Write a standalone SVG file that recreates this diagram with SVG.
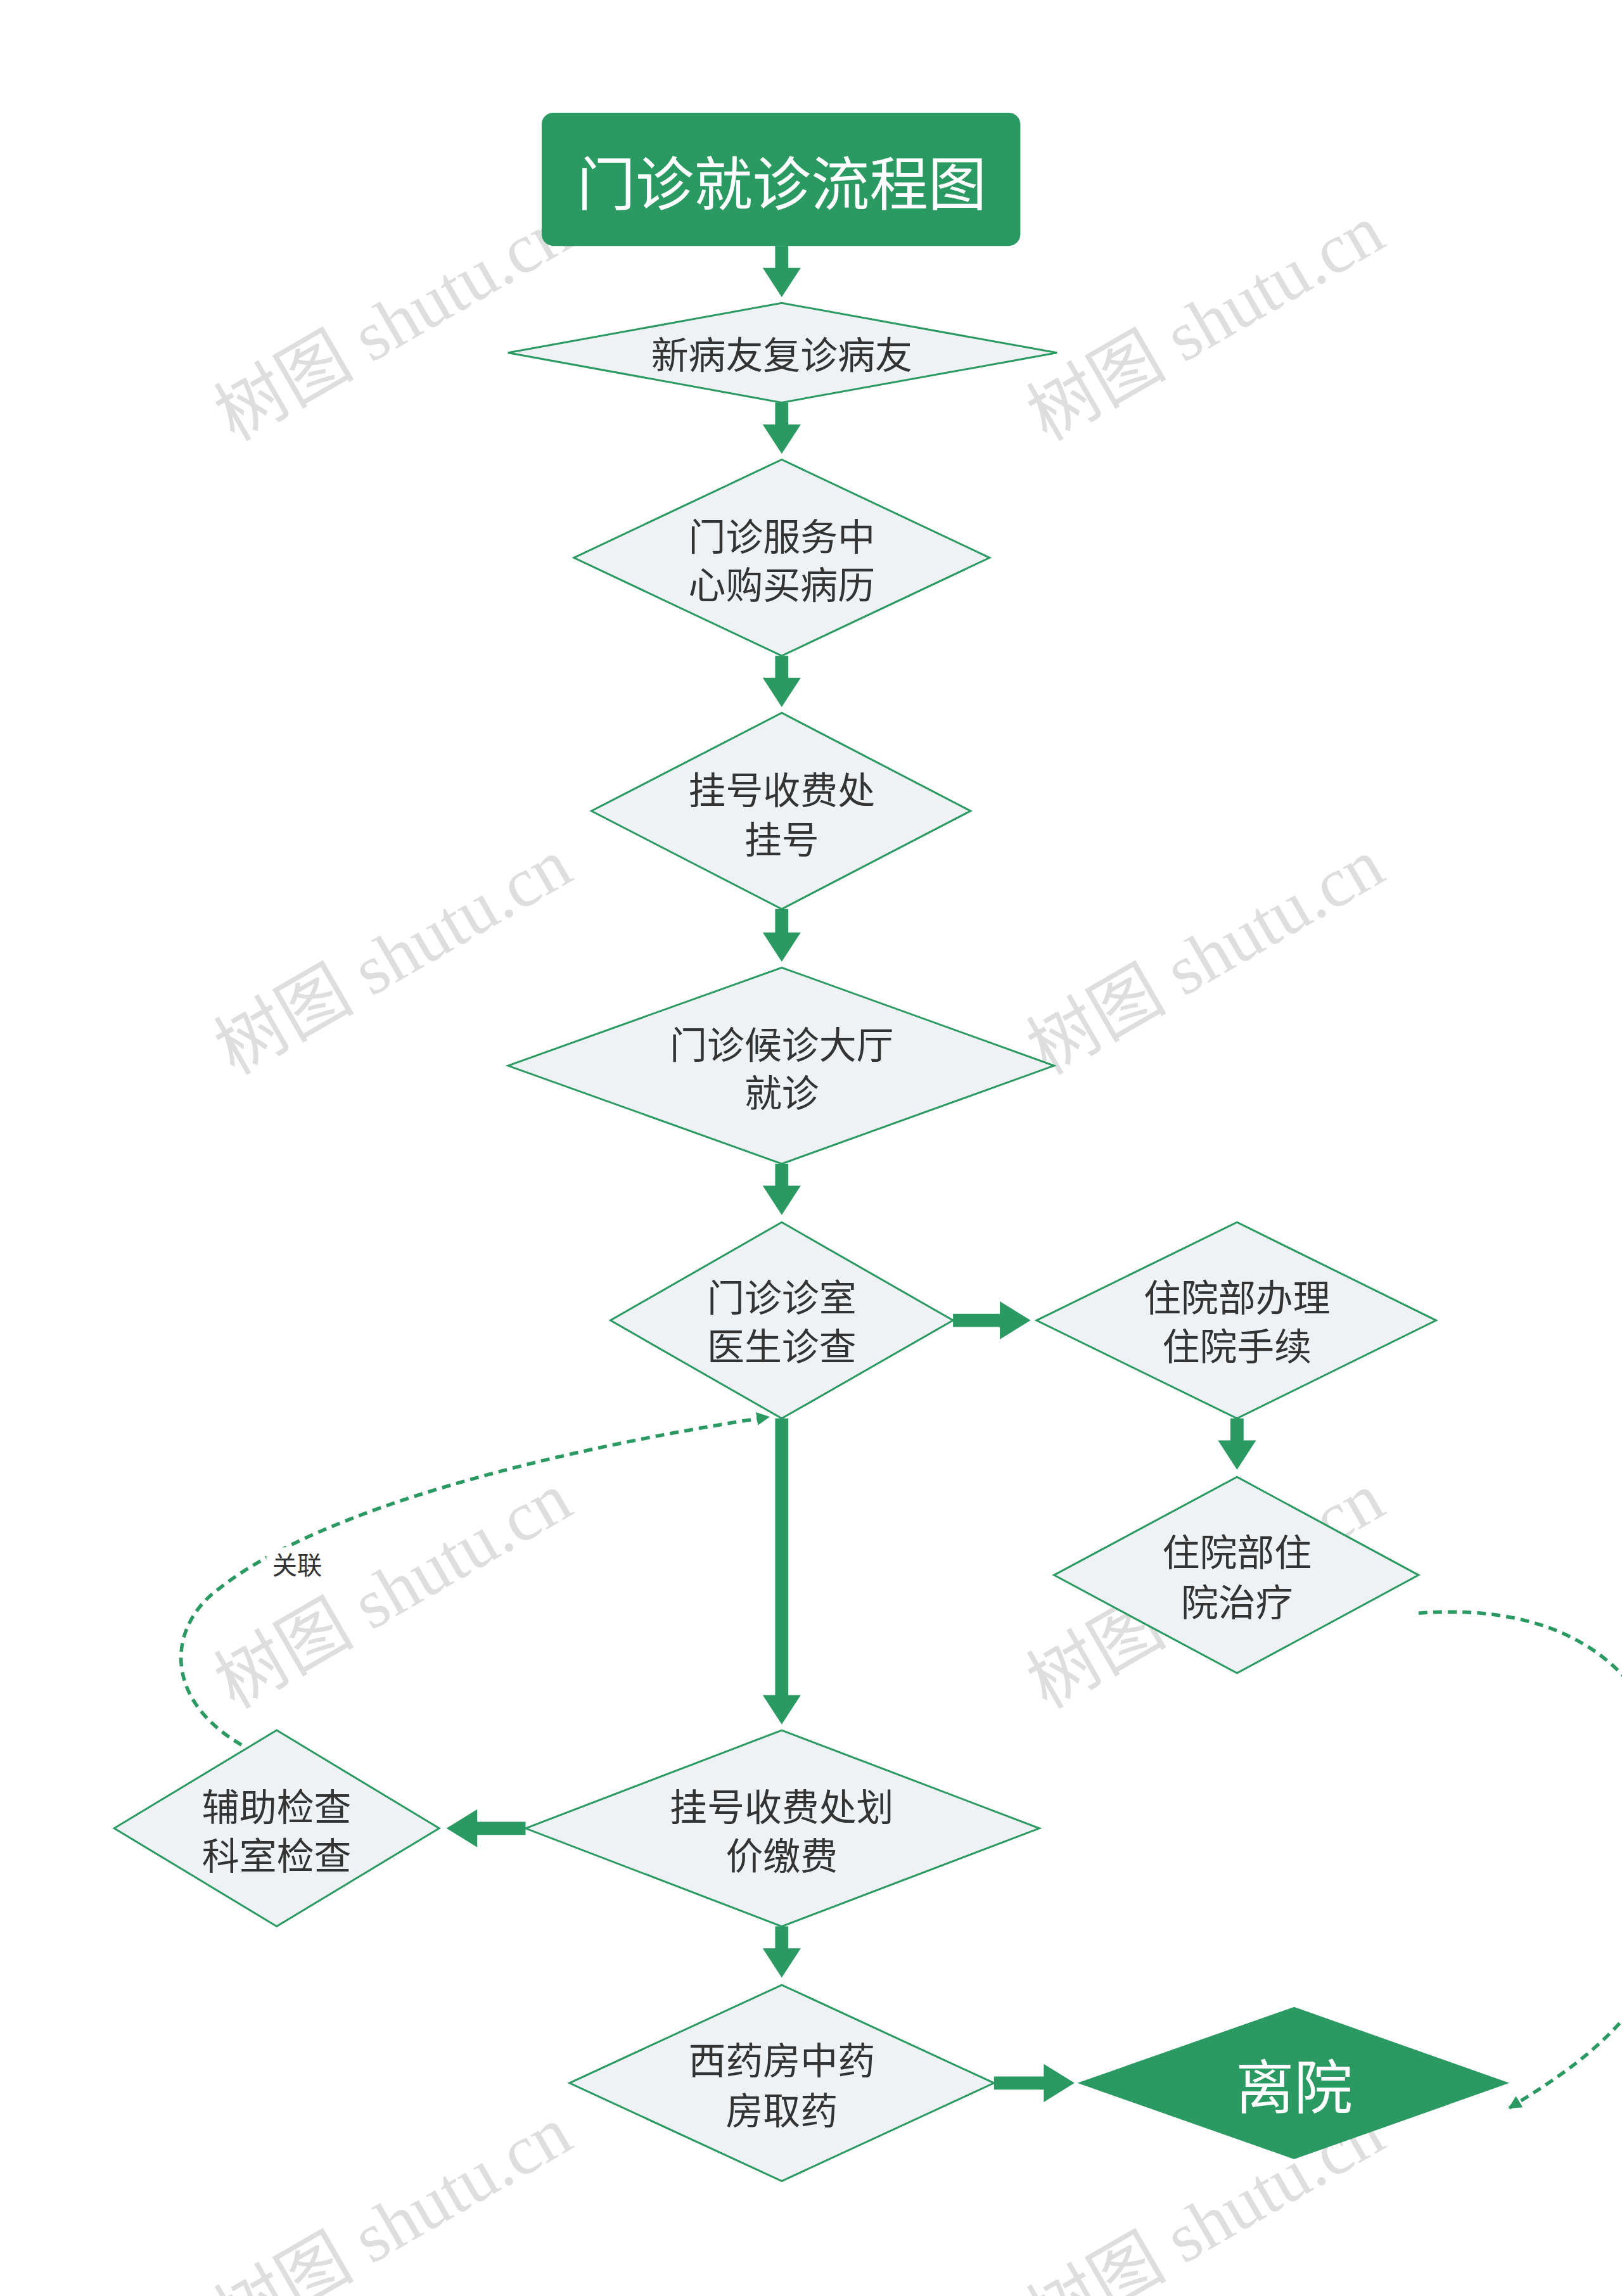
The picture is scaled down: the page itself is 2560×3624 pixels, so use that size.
<svg xmlns="http://www.w3.org/2000/svg" width="2560" height="3624" viewBox="0 0 2560 3624">
<defs>
<style>
.d{fill:#eef2f4;stroke:#2a9a62;stroke-width:1.3}
.t{font-family:"Noto Sans CJK SC",sans-serif;font-size:25.5px;fill:#333;text-anchor:middle;dominant-baseline:central}
.w{font-family:"Noto Sans CJK SC",sans-serif;fill:#fff;text-anchor:middle;dominant-baseline:central}
.a{stroke:#2a9a62;stroke-width:9;fill:none}
.h{fill:#2a9a62}
.dash{stroke:#2a9a62;stroke-width:2.4;fill:none;stroke-dasharray:6 4}
.wm{font-family:"Liberation Serif","Noto Sans CJK SC",serif;font-size:48px;fill:#d6d6d6;opacity:0.8}
</style>
<marker id="m" viewBox="0 0 10 10" refX="9" refY="5" markerWidth="9" markerHeight="9" orient="auto" markerUnits="userSpaceOnUse"><path d="M0,0L10,5L0,10z" fill="#2a9a62"/></marker>
</defs>
<rect width="2560" height="3624" fill="#fff"/>
<g transform="scale(2.3105)">
<g id="watermarks">
<text class="wm" transform="translate(160,302) rotate(-30)">树图 shutu.cn</text>
<text class="wm" transform="translate(715,302) rotate(-30)">树图 shutu.cn</text>
<text class="wm" transform="translate(160,735) rotate(-30)">树图 shutu.cn</text>
<text class="wm" transform="translate(715,735) rotate(-30)">树图 shutu.cn</text>
<text class="wm" transform="translate(160,1168) rotate(-30)">树图 shutu.cn</text>
<text class="wm" transform="translate(715,1168) rotate(-30)">树图 shutu.cn</text>
<text class="wm" transform="translate(160,1601) rotate(-30)">树图 shutu.cn</text>
<text class="wm" transform="translate(715,1601) rotate(-30)">树图 shutu.cn</text>
</g>
<g id="connectors">
<path class="a" d="M534,168V186"/><path class="h" d="M521,183H547L534,203z"/>
<path class="a" d="M534,275V293"/><path class="h" d="M521,290H547L534,310z"/>
<path class="a" d="M534,448V466"/><path class="h" d="M521,463H547L534,483z"/>
<path class="a" d="M534,621V640"/><path class="h" d="M521,637H547L534,657z"/>
<path class="a" d="M534,795V813"/><path class="h" d="M521,810H547L534,830z"/>
<path class="a" d="M651,902H686"/><path class="h" d="M683,889V915L704,902z"/>
<path class="a" d="M845,969V987"/><path class="h" d="M832,984H858L845,1004z"/>
<path class="a" d="M534,969V1161"/><path class="h" d="M521,1158H547L534,1178z"/>
<path class="a" d="M359,1249H323"/><path class="h" d="M326,1236V1262L305,1249z"/>
<path class="a" d="M534,1316V1334"/><path class="h" d="M521,1331H547L534,1351z"/>
<path class="a" d="M679,1423H716"/><path class="h" d="M713,1410V1436L734,1423z"/>
<path class="dash" d="M165,1192C110,1160 115,1110 150,1085C220,1030 380,990 525,968" marker-end="url(#m)"/>
<path class="dash" d="M969,1102C1060,1095 1140,1130 1150,1250C1160,1360 1080,1410 1031,1440" marker-end="url(#m)"/>
<rect x="182" y="1057" width="42" height="22" fill="#fff"/>
<text x="203" y="1068" style="font-family:'Noto Sans CJK SC',sans-serif;font-size:17px;fill:#333;text-anchor:middle;dominant-baseline:central">关联</text>
</g>
<g id="n0"><rect x="370" y="77" width="327" height="91" rx="8" fill="#2a9a62"/><text class="w" x="534" y="123" font-size="40">门诊就诊流程图</text></g>
<g id="n1"><polygon class="d" points="347,241 534,207 722,241 534,275"/><text class="t" x="534" y="241">新病友复诊病友</text></g>
<g id="n2"><polygon class="d" points="392,381 534,314 676,381 534,448"/><text class="t" x="534" y="365">门诊服务中</text><text class="t" x="534" y="398">心购买病历</text></g>
<g id="n3"><polygon class="d" points="404,554 534,487 663,554 534,621"/><text class="t" x="534" y="538">挂号收费处</text><text class="t" x="534" y="572">挂号</text></g>
<g id="n4"><polygon class="d" points="347,728 534,661 720,728 534,795"/><text class="t" x="534" y="712">门诊候诊大厅</text><text class="t" x="534" y="745">就诊</text></g>
<g id="n5"><polygon class="d" points="417,902 534,835 651,902 534,969"/><text class="t" x="534" y="885">门诊诊室</text><text class="t" x="534" y="918">医生诊查</text></g>
<g id="n6"><polygon class="d" points="708,902 845,835 981,902 845,969"/><text class="t" x="845" y="885">住院部办理</text><text class="t" x="845" y="918">住院手续</text></g>
<g id="n7"><polygon class="d" points="720,1076 845,1009 969,1076 845,1143"/><text class="t" x="845" y="1059">住院部住</text><text class="t" x="845" y="1093">院治疗</text></g>
<g id="n8"><polygon class="d" points="359,1249 534,1182 710,1249 534,1316"/><text class="t" x="534" y="1233">挂号收费处划</text><text class="t" x="534" y="1266">价缴费</text></g>
<g id="n9"><polygon class="d" points="78,1249 189,1182 300,1249 189,1316"/><text class="t" x="189" y="1233">辅助检查</text><text class="t" x="189" y="1266">科室检查</text></g>
<g id="n10"><polygon class="d" points="389,1423 534,1356 679,1423 534,1490"/><text class="t" x="534" y="1406">西药房中药</text><text class="t" x="534" y="1440">房取药</text></g>
<g id="n11"><polygon points="736,1423 884,1371 1031,1423 884,1475" fill="#2a9a62"/><text class="w" x="884" y="1423" font-size="40">离院</text></g>
</g>
</svg>
